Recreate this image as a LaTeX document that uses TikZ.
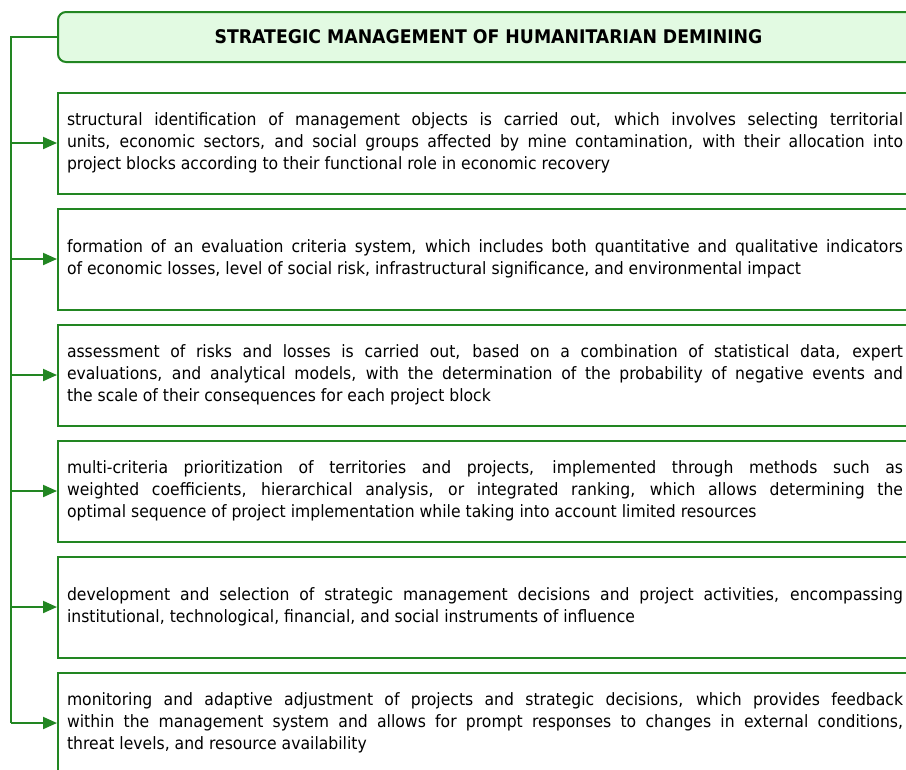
\documentclass[tikz,border=0pt]{standalone}
\usepackage{fontspec}
\usetikzlibrary{arrows.meta,positioning}
\newfontfamily\bodyfont[FakeStretch=0.92]{DejaVu Sans}
\definecolor{dgreen}{RGB}{34,134,34}
\definecolor{lgreen}{RGB}{226,250,226}
\tolerance=10000
\hbadness=10000
\tikzset{
  stepbox/.style={draw=dgreen, line width=1.5pt, rectangle, anchor=west,
    text width=627pt, inner xsep=6.75pt, minimum height=75.75pt,
    align=justify, text=black,
    font=\bodyfont\fontsize{12.75pt}{16.5pt}\selectfont},
  titlebox/.style={draw=dgreen, fill=lgreen, line width=1.5pt, rounded corners=6pt,
    anchor=west, minimum width=645.75pt, minimum height=37.5pt, text=black,
    font=\bodyfont\bfseries\fontsize{14.1pt}{16pt}\selectfont},
  link/.style={draw=dgreen, line width=1.5pt},
  arr/.style={link, -{Triangle[length=10.5pt,width=9pt]}}
}
\begin{document}
\begin{tikzpicture}[x=0.75pt,y=-0.75pt]
\useasboundingbox (0,0) rectangle (906,769);
\clip (0,0) rectangle (906,769);
\node[titlebox] (t) at (57,37) {STRATEGIC MANAGEMENT OF HUMANITARIAN DEMINING};
\node[stepbox] (b1) at (57,143) {structural identification of management objects is carried out, which involves selecting territorial\linebreak units, economic sectors, and social groups affected by mine contamination, with their allocation into\linebreak project blocks according to their functional role in economic recovery};
\node[stepbox] (b2) at (57,259) {formation of an evaluation criteria system, which includes both quantitative and qualitative indicators\linebreak of economic losses, level of social risk, infrastructural significance, and environmental impact};
\node[stepbox] (b3) at (57,375) {assessment of risks and losses is carried out, based on a combination of statistical data, expert\linebreak evaluations, and analytical models, with the determination of the probability of negative events and\linebreak the scale of their consequences for each project block};
\node[stepbox] (b4) at (57,491) {multi-criteria prioritization of territories and projects, implemented through methods such as\linebreak weighted coefficients, hierarchical analysis, or integrated ranking, which allows determining the\linebreak optimal sequence of project implementation while taking into account limited resources};
\node[stepbox] (b5) at (57,607) {development and selection of strategic management decisions and project activities, encompassing\linebreak institutional, technological, financial, and social instruments of influence};
\node[stepbox] (b6) at (57,723) {monitoring and adaptive adjustment of projects and strategic decisions, which provides feedback\linebreak within the management system and allows for prompt responses to changes in external conditions,\linebreak threat levels, and resource availability};
\coordinate (sp) at (11,37);
\draw[link] (t.west) -- (sp) -- (sp |- b6.west);
\foreach \b in {b1,b2,b3,b4,b5,b6}
  \draw[arr] (sp |- \b.west) -- (\b.west);
\end{tikzpicture}
\end{document}
